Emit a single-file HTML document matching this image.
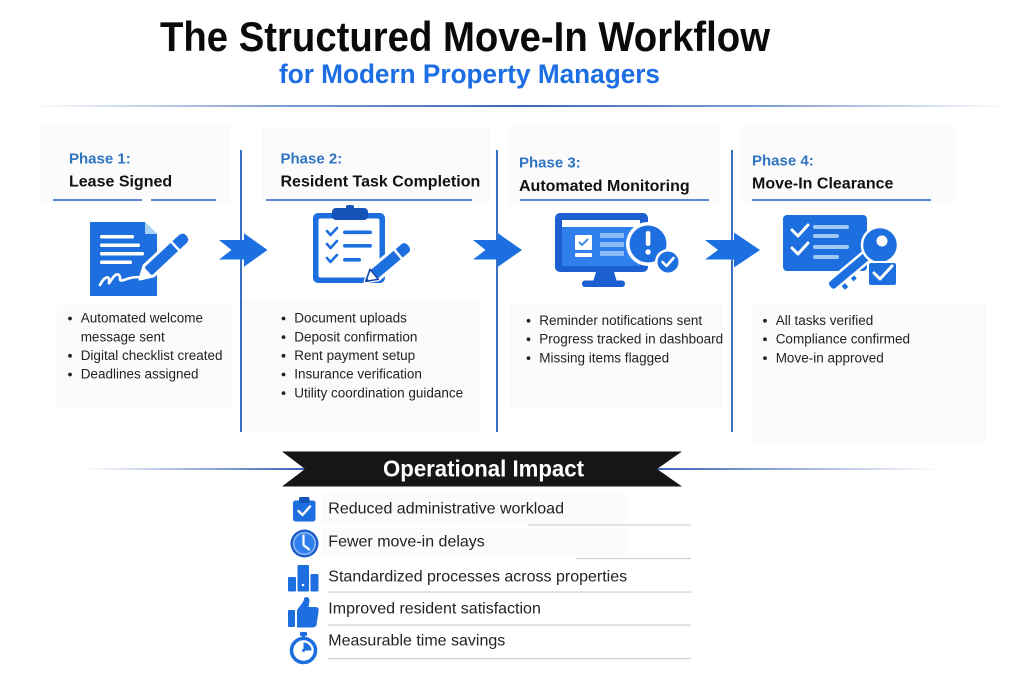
<!DOCTYPE html>
<html><head><meta charset="utf-8"><style>
html,body{margin:0;padding:0;background:#fff;}
svg{display:block;}
text{font-family:"Liberation Sans",Arial,sans-serif;}
</style></head><body>
<svg width="1024" height="683" viewBox="0 0 1024 683" xmlns="http://www.w3.org/2000/svg">
<defs>
<linearGradient id="gTop" x1="30" y1="0" x2="1010" y2="0" gradientUnits="userSpaceOnUse">
<stop offset="0" stop-color="#4a74bd" stop-opacity="0"/>
<stop offset="0.25" stop-color="#4a74bd" stop-opacity="0.7"/>
<stop offset="0.5" stop-color="#3a68b8" stop-opacity="1"/>
<stop offset="0.75" stop-color="#4a74bd" stop-opacity="0.7"/>
<stop offset="1" stop-color="#4a74bd" stop-opacity="0"/>
</linearGradient>
<linearGradient id="gL" x1="85" y1="0" x2="305" y2="0" gradientUnits="userSpaceOnUse">
<stop offset="0" stop-color="#3d62b8" stop-opacity="0"/>
<stop offset="1" stop-color="#3d62b8" stop-opacity="1"/>
</linearGradient>
<linearGradient id="gR" x1="657" y1="0" x2="940" y2="0" gradientUnits="userSpaceOnUse">
<stop offset="0" stop-color="#3d62b8" stop-opacity="1"/>
<stop offset="1" stop-color="#3d62b8" stop-opacity="0"/>
</linearGradient>
</defs>

<!-- faint panels -->
<g fill="#fbfbfc">
<rect x="40" y="125" width="190" height="78"/>
<rect x="57" y="305" width="176" height="103"/>
<rect x="262" y="128" width="228" height="76"/>
<rect x="243" y="300" width="237" height="132"/>
<rect x="508" y="125" width="212" height="80"/>
<rect x="510" y="305" width="212" height="103"/>
<rect x="740" y="125" width="216" height="78"/>
<rect x="752" y="305" width="234" height="140"/>
</g>

<!-- Title -->
<text x="160" y="51" font-size="42" font-weight="bold" fill="#0a0a0a" textLength="610" lengthAdjust="spacingAndGlyphs">The Structured Move-In Workflow</text>
<text x="279" y="83" font-size="27" font-weight="bold" fill="#1c6fe3" textLength="381" lengthAdjust="spacingAndGlyphs">for Modern Property Managers</text>
<rect x="30" y="105" width="980" height="2" fill="url(#gTop)"/>

<!-- Vertical dividers -->
<g fill="#3a6fc4">
<rect x="240" y="150" width="2" height="282"/>
<rect x="496" y="150" width="2" height="282"/>
<rect x="731" y="150" width="2" height="282"/>
</g>

<!-- Phase headings -->
<g font-weight="bold" font-size="15" fill="#2f74c0">
<text x="69" y="163.5">Phase 1:</text>
<text x="280.5" y="163.5">Phase 2:</text>
<text x="519" y="167.5">Phase 3:</text>
<text x="752" y="165.5">Phase 4:</text>
</g>
<g font-weight="bold" font-size="16" fill="#111">
<text x="69" y="186.7">Lease Signed</text>
<text x="280.5" y="186.7">Resident Task Completion</text>
<text x="519" y="191">Automated Monitoring</text>
<text x="752" y="188.3">Move-In Clearance</text>
</g>
<g fill="#5b8ad0">
<rect x="53" y="199" width="89" height="2"/>
<rect x="151" y="199" width="65" height="2"/>
<rect x="266" y="199" width="206" height="2"/>
<rect x="520" y="199" width="189" height="2"/>
<rect x="752" y="199" width="179" height="2"/>
</g>

<!-- Arrows -->
<g fill="#1b6fe0">
<path d="M219,240 L244,240 L244,233.3 L267.5,250 L244,266.7 L244,259.5 L219,259.5 L231.5,250 Z"/>
<path d="M473,240 L498,240 L498,233.3 L522,250 L498,266.7 L498,259.5 L473,259.5 L485.5,250 Z"/>
<path d="M705,240 L734,240 L734,232.5 L760,250 L734,267.5 L734,259.5 L705,259.5 L718,250 Z"/>
</g>

<!-- Phase 1 icon: document + pen -->
<path d="M90,222 H145 L157,234 V296 H90 Z" fill="#1d6fe0"/>
<path d="M145,222 L157,234 H145 Z" fill="#a9d0f5"/>
<g fill="#fff">
<rect x="100" y="235" width="34" height="3.5" rx="1.5"/>
<rect x="100" y="243.5" width="40" height="3.5" rx="1.5"/>
<rect x="100" y="252" width="44" height="3.5" rx="1.5"/>
<rect x="100" y="260.5" width="32" height="3.5" rx="1.5"/>
</g>
<path d="M100,285 c4,-8 10,-11 9,-3 c-1,6 5,-11 10,-7 c3,3 -2,7 5,5 c5,-2 9,-3 18,-3" fill="none" stroke="#fff" stroke-width="2.6" stroke-linecap="round"/>
<g transform="translate(140,279) rotate(-43)">
<path d="M0,0 L12,-7 L58,-7 Q65,-7 65,0 Q65,7 58,7 L12,7 Z" fill="#1d6fe0" stroke="#fff" stroke-width="3" stroke-linejoin="round"/>
<path d="M2,0 L11,-5 L11,5 Z" fill="#fff"/>
<rect x="47" y="-7" width="2.5" height="14" fill="#fff"/>
</g>

<!-- Phase 2 icon: clipboard -->
<rect x="313" y="213" width="72" height="70" rx="5" fill="#1d6fe0"/>
<rect x="318.5" y="218.5" width="61" height="59" rx="2" fill="#fff"/>
<rect x="332" y="208" width="36" height="12" rx="4" fill="#1553b8"/>
<rect x="346" y="205" width="8" height="5" rx="2" fill="#1553b8"/>
<g fill="none" stroke="#1d6fe0" stroke-width="2.6" stroke-linecap="round" stroke-linejoin="round">
<polyline points="327,231 330.5,235 337,228"/>
<polyline points="327,244 330.5,248 337,241"/>
<polyline points="327,258 330.5,262 337,255"/>
</g>
<g fill="#1d6fe0">
<rect x="343" y="230.5" width="29" height="3.6" rx="1.8"/>
<rect x="343" y="244" width="29" height="3.6" rx="1.8"/>
<rect x="343" y="258" width="18" height="3.6" rx="1.8"/>
</g>
<g transform="translate(365,282) rotate(-40)">
<path d="M0,0 L12,-7 L52,-7 Q58,-7 58,0 Q58,7 52,7 L12,7 Z" fill="#1d6fe0" stroke="#fff" stroke-width="3" stroke-linejoin="round"/>
<path d="M1,0 L12,-6.5 L12,6.5 Z" fill="#fff" stroke="#1446a8" stroke-width="1.6" stroke-linejoin="round"/>
<path d="M0,0 L4,-2.3 L4,2.3 Z" fill="#1446a8"/>
<rect x="42" y="-7" width="2.5" height="14" fill="#fff"/>
</g>

<!-- Phase 3 icon: monitor -->
<rect x="555" y="213" width="93" height="59" rx="5" fill="#1b5fd0"/>
<rect x="562" y="220" width="78" height="46" fill="#2f80ed"/>
<rect x="562" y="220" width="78" height="7" fill="#fff"/>
<path d="M596,272 L614,272 L617,282 L593,282 Z" fill="#1b5fd0"/>
<rect x="582" y="280.5" width="43" height="6.5" rx="3" fill="#1b5fd0"/>
<rect x="575" y="235" width="17" height="15" rx="1" fill="#fff"/>
<polyline points="579,242 582,245 588,239" fill="none" stroke="#2f80ed" stroke-width="1.8"/>
<rect x="575" y="253" width="17" height="4" rx="1" fill="#fff"/>
<g fill="#8bbcf6">
<rect x="600" y="233" width="24" height="5" rx="1"/>
<rect x="600" y="242" width="24" height="5" rx="1"/>
<rect x="600" y="251" width="24" height="5" rx="1"/>
</g>
<circle cx="648" cy="244" r="22" fill="#fff"/>
<circle cx="648" cy="244" r="18.5" fill="#1d6fe0"/>
<rect x="645.8" y="231" width="4.6" height="15" rx="2.2" fill="#fff"/>
<circle cx="648.1" cy="252" r="2.7" fill="#fff"/>
<circle cx="668" cy="262" r="13" fill="#fff"/>
<circle cx="668" cy="262" r="10.5" fill="#1d6fe0"/>
<polyline points="662.5,262 666.5,266 673.5,258" fill="none" stroke="#fff" stroke-width="2.6" stroke-linecap="round" stroke-linejoin="round"/>

<!-- Phase 4 icon: card + key + checkbox -->
<rect x="783" y="215" width="84" height="56" rx="4" fill="#1d6fe0"/>
<g fill="none" stroke="#fff" stroke-width="3" stroke-linecap="round" stroke-linejoin="round">
<polyline points="792,230 798,236 808,225"/>
<polyline points="792,248 798,254 808,243"/>
</g>
<g fill="#9fcaf7">
<rect x="813" y="225" width="36" height="4" rx="2"/>
<rect x="813" y="234" width="26" height="4" rx="2"/>
<rect x="813" y="245" width="36" height="4" rx="2"/>
<rect x="813" y="255" width="26" height="4" rx="2"/>
</g>
<g transform="translate(880,245) rotate(140)">
<path d="M12,-5.5 L62,-5.5 Q66,-5.5 66,0 Q66,5.5 62,5.5 L12,5.5 Z M38,-5.5 L38,-12 L45,-12 L45,-5.5 Z M50,-5.5 L50,-13 L57,-13 L57,-5.5 Z" fill="#1d6fe0" stroke="#fff" stroke-width="2.5" stroke-linejoin="round"/>
</g>
<circle cx="880" cy="245" r="18" fill="#1d6fe0" stroke="#fff" stroke-width="2.5"/>
<circle cx="882" cy="241" r="5.5" fill="#fff"/>
<rect x="868" y="262" width="29" height="24" rx="3" fill="#1d6fe0" stroke="#fff" stroke-width="2"/>
<polyline points="874,273 880,279 892,266" fill="none" stroke="#fff" stroke-width="3" stroke-linecap="round" stroke-linejoin="round"/>

<!-- Bullets -->
<g fill="#222" font-size="13.5">
<text x="80.7" y="322.7">Automated welcome</text>
<text x="80.7" y="341.3">message sent</text>
<text x="80.7" y="360">Digital checklist created</text>
<text x="80.7" y="378.7">Deadlines assigned</text>

<text x="294.3" y="322.7">Document uploads</text>
<text x="294.3" y="341.3">Deposit confirmation</text>
<text x="294.3" y="360">Rent payment setup</text>
<text x="294.3" y="378.7">Insurance verification</text>
<text x="294.3" y="397.3">Utility coordination guidance</text>

<text x="539.3" y="325">Reminder notifications sent</text>
<text x="539.3" y="343.5">Progress tracked in dashboard</text>
<text x="539.3" y="362.3">Missing items flagged</text>

<text x="775.7" y="325">All tasks verified</text>
<text x="775.7" y="343.5">Compliance confirmed</text>
<text x="775.7" y="362.3">Move-in approved</text>
</g>
<g fill="#222">
<circle cx="70" cy="318.5" r="1.9"/><circle cx="70" cy="355.8" r="1.9"/><circle cx="70" cy="374.5" r="1.9"/>
<circle cx="283.5" cy="318.5" r="1.9"/><circle cx="283.5" cy="337.1" r="1.9"/><circle cx="283.5" cy="355.8" r="1.9"/><circle cx="283.5" cy="374.5" r="1.9"/><circle cx="283.5" cy="393.1" r="1.9"/>
<circle cx="528.5" cy="320.8" r="1.9"/><circle cx="528.5" cy="339.3" r="1.9"/><circle cx="528.5" cy="358.1" r="1.9"/>
<circle cx="765" cy="320.8" r="1.9"/><circle cx="765" cy="339.3" r="1.9"/><circle cx="765" cy="358.1" r="1.9"/>
</g>

<!-- Operational Impact banner -->
<rect x="85" y="468" width="220" height="2" fill="url(#gL)"/>
<rect x="657" y="468" width="283" height="2" fill="url(#gR)"/>
<path d="M282,451.5 L682,451.5 L657,469 L682,486.5 L282,486.5 L305,469 Z" fill="#161616"/>
<text x="383" y="476.5" font-size="23" font-weight="bold" fill="#fff" textLength="201" lengthAdjust="spacingAndGlyphs">Operational Impact</text>

<!-- Impact items -->
<g fill="#fbfbfc">
<rect x="322" y="494" width="305" height="30"/>
<rect x="322" y="528" width="305" height="28"/>
</g>
<g fill="#cdd1d8">
<rect x="528" y="524.5" width="163" height="1.2"/>
<rect x="576" y="558" width="115" height="1.2"/>
<rect x="328" y="591.5" width="363" height="1.2"/>
<rect x="328" y="624.5" width="363" height="1.2"/>
<rect x="328" y="658" width="363" height="1.2"/>
</g>
<g fill="#222" font-size="16">
<text x="328.3" y="513.3">Reduced administrative workload</text>
<text x="328.3" y="546.7">Fewer move-in delays</text>
<text x="328.3" y="581.7">Standardized processes across properties</text>
<text x="328.3" y="613.3">Improved resident satisfaction</text>
<text x="328.3" y="645.7">Measurable time savings</text>
</g>

<!-- icon: clipboard check -->
<rect x="293" y="500.5" width="22.5" height="21" rx="2.5" fill="#1d6fe0"/>
<rect x="299" y="497" width="10.5" height="6" rx="1.5" fill="#1553b8"/>
<polyline points="298.5,511 302.5,515 310,506.5" fill="none" stroke="#fff" stroke-width="2.4" stroke-linecap="round" stroke-linejoin="round"/>
<!-- icon: clock -->
<circle cx="304.5" cy="543.5" r="14" fill="#1a5cc8"/>
<circle cx="304.5" cy="543.5" r="10.8" fill="#2f7fee" stroke="#8db8f4" stroke-width="1.6"/>
<polyline points="303.5,535.5 303.5,545 309,549.5" fill="none" stroke="#fff" stroke-width="2.2" stroke-linecap="round" stroke-linejoin="round"/>
<!-- icon: buildings -->
<g fill="#1d6fe0">
<rect x="288" y="577" width="8" height="14.5" rx="1"/>
<rect x="297.5" y="565" width="11.5" height="26.5" rx="1"/>
<rect x="310.5" y="574" width="8" height="17.5" rx="1"/>
</g>
<circle cx="303" cy="585" r="1.3" fill="#fff"/>
<!-- icon: thumbs up -->
<rect x="288" y="610" width="7" height="17" rx="1" fill="#1d6fe0"/>
<path d="M297,610 L303,602 L304.5,597.5 Q309.5,596 309.5,601 L308.5,607 L316,607 Q319.5,607.5 318.5,611.5 L316.5,625 Q315.5,627.5 312.5,627.5 L297,627.5 Z" fill="#1d6fe0"/>
<!-- icon: stopwatch -->
<rect x="300" y="632" width="7" height="4" rx="1" fill="#1d6fe0"/>
<rect x="302" y="635" width="3" height="3" fill="#1d6fe0"/>
<circle cx="303.5" cy="650.5" r="12" fill="#fff" stroke="#1d6fe0" stroke-width="3.6"/>
<path d="M303.5,650.5 L303.5,642.5 A8,8 0 0,1 311.5,650.5 Z" fill="#1d6fe0"/>
<circle cx="303.5" cy="650.5" r="1.5" fill="#1d6fe0"/>
</svg>
</body></html>
